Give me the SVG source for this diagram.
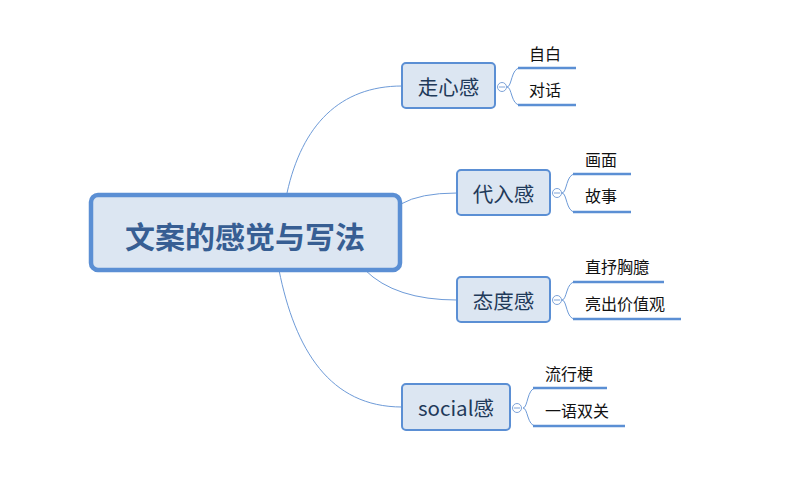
<svg xmlns="http://www.w3.org/2000/svg" width="787" height="482" viewBox="0 0 787 482">
<style>
.conn{fill:none;stroke:#6e9bd8;stroke-width:1}
.sub{fill:none;stroke:#6e9bd8;stroke-width:1}
.leafline{stroke:#5b8fd4;stroke-width:2.5}
.box{fill:#dce6f2;stroke:#5b8fd4;stroke-width:2}
.btext{font-family:"Noto Sans CJK SC","Noto Sans",sans-serif;font-size:20.5px;fill:#1f3a5a;text-anchor:middle;dominant-baseline:central}
.leaf{font-family:"Noto Sans CJK SC","Noto Sans",sans-serif;font-size:16px;fill:#111}
.knob{fill:#fff;stroke:#7ea3d8;stroke-width:1}
</style>
<rect width="787" height="482" fill="#fff"/>
<g id="connectors">
<path class="conn" d="M287 193 C302 125 340 86 402 86"/>
<path class="conn" d="M401 204 Q420 193 457 193"/>
<path class="conn" d="M365 270 Q395 300 457 300"/>
<path class="conn" d="M279 270 C295 350 330 407 402 407"/>
<path class="sub" d="M507 87 C512 87 511 68 520 68 M507 87 C512 87 511 105 520 105"/>
<path class="sub" d="M562 193 C567 193 566 174 575 174 M562 193 C567 193 566 212 575 212"/>
<path class="sub" d="M562 300 C567 300 566 282 575 282 M562 300 C567 300 566 319 575 319"/>
<path class="sub" d="M523 408 C528 408 527 388 536 388 M523 408 C528 408 527 426 536 426"/>
</g>
<g id="root">
<rect x="91" y="195" width="309" height="75" rx="7" fill="#dce6f2" stroke="#5b8fd4" stroke-width="4.5"/>
<text x="245" y="235" font-family="'Noto Sans CJK SC','Noto Sans',sans-serif" font-size="30" font-weight="bold" fill="#375e93" text-anchor="middle" dominant-baseline="central">文案的感觉与写法</text>
</g>
<g id="n1">
<rect class="box" x="402" y="63" width="93" height="45" rx="4"/>
<text class="btext" x="448.5" y="86">走心感</text>
<circle class="knob" cx="502" cy="87" r="4.5"/><line x1="499" y1="87" x2="505" y2="87" stroke="#7ea3d8"/>
<line class="leafline" x1="518" y1="68" x2="576" y2="68"/>
<text class="leaf" x="529" y="60">自白</text>
<line class="leafline" x1="518" y1="105" x2="576" y2="105"/>
<text class="leaf" x="529" y="96">对话</text>
</g>
<g id="n2">
<rect class="box" x="457" y="170" width="93" height="45" rx="4"/>
<text class="btext" x="503.5" y="193">代入感</text>
<circle class="knob" cx="557" cy="193" r="4.5"/><line x1="554" y1="193" x2="560" y2="193" stroke="#7ea3d8"/>
<line class="leafline" x1="573" y1="174" x2="631" y2="174"/>
<text class="leaf" x="585" y="166">画面</text>
<line class="leafline" x1="573" y1="212" x2="631" y2="212"/>
<text class="leaf" x="585" y="202">故事</text>
</g>
<g id="n3">
<rect class="box" x="457" y="277" width="93" height="45" rx="4"/>
<text class="btext" x="503.5" y="300">态度感</text>
<circle class="knob" cx="557" cy="300" r="4.5"/><line x1="554" y1="300" x2="560" y2="300" stroke="#7ea3d8"/>
<line class="leafline" x1="573" y1="282" x2="664" y2="282"/>
<text class="leaf" x="585" y="273">直抒胸臆</text>
<line class="leafline" x1="573" y1="319" x2="681" y2="319"/>
<text class="leaf" x="585" y="310">亮出价值观</text>
</g>
<g id="n4">
<rect class="box" x="402" y="384" width="108" height="46" rx="4"/>
<text class="btext" x="456" y="407">social感</text>
<circle class="knob" cx="517" cy="408" r="4.5"/><line x1="514" y1="408" x2="520" y2="408" stroke="#7ea3d8"/>
<line class="leafline" x1="533" y1="388" x2="607" y2="388"/>
<text class="leaf" x="545" y="380">流行梗</text>
<line class="leafline" x1="533" y1="426" x2="625" y2="426"/>
<text class="leaf" x="545" y="417">一语双关</text>
</g>
</svg>
